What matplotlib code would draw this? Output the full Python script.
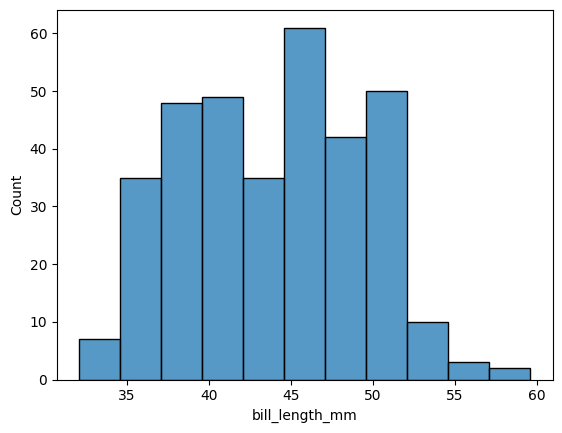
import matplotlib
matplotlib.use("Agg")
import matplotlib.pyplot as plt
from matplotlib.colors import to_rgba

bin_start = 32.1
bin_width = 2.5
counts = [7, 35, 48, 49, 35, 61, 42, 50, 10, 3, 2]
edges = [bin_start + i * bin_width for i in range(len(counts))]

fig, ax = plt.subplots(figsize=(6.4, 4.8), dpi=100)
ax.bar(edges, counts, width=bin_width, align='edge',
       facecolor=to_rgba('#1f77b4', 0.75), edgecolor='black', linewidth=1)
ax.set_xlabel('bill_length_mm')
ax.set_ylabel('Count')
ax.set_xticks([35, 40, 45, 50, 55, 60])
fig.savefig('out.png', bbox_inches='tight')
